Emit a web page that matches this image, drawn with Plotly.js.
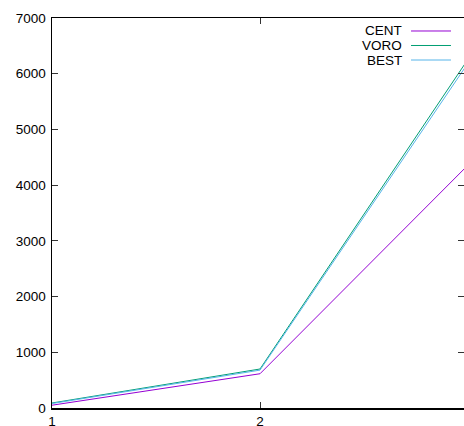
<!DOCTYPE html>
<html>
<head>
<meta charset="utf-8">
<script src="https://cdn.plot.ly/plotly-3.0.1.min.js"></script>
<style>html,body{margin:0;padding:0;background:#fff;overflow:hidden}</style>
</head>
<body>
<div id="chart" style="width:464px;height:426px"></div>
<script>
const xValues = [1, 2, 3];
const seriesNames = ["CENT", "VORO", "BEST"];
const cent = [50, 615, 4360];
const voro = [90, 700, 6260];
const best = [80, 680, 6190];
const seriesColors = ["#9400d3", "#009e73", "#56b4e9"];
const yTicks = [0, 1000, 2000, 3000, 4000, 5000, 6000, 7000];
const xTicks = [1, 2, 3];

const allSeries = [cent, voro, best];
const traces = allSeries.map((vals, i) => ({
  x: xValues, y: vals, type: 'scatter', mode: 'lines',
  name: seriesNames[i], showlegend: false,
  line: {color: seriesColors[i], width: 1}
}));

const font = {family: 'Liberation Sans, Arial, sans-serif', size: 13.5, color: '#000'};
const legendX0 = 0.8714, legendX1 = 0.9684, legendTextX = 0.855;
const rowY = [0.9667, 0.9295, 0.8923];
const annotations = seriesNames.map((n, i) => ({
  xref: 'paper', yref: 'paper', x: legendTextX, y: rowY[i],
  xanchor: 'right', yanchor: 'middle', text: n, showarrow: false, font: font
}));
const shapes = seriesNames.map((n, i) => ({
  type: 'line', xref: 'paper', yref: 'paper', x0: legendX0, x1: legendX1,
  y0: rowY[i], y1: rowY[i], line: {color: seriesColors[i], width: 1}
}));

const layout = {
  width: 464, height: 426,
  margin: {l: 52, r: 0, t: 18, b: 18},
  paper_bgcolor: '#fff', plot_bgcolor: '#fff',
  font: font,
  showlegend: false,
  xaxis: {
    range: [1, 1 + 412 / 208], tickvals: xTicks, ticktext: xTicks.map(String),
    ticks: 'inside', ticklen: 6, tickcolor: '#333', tickwidth: 1,
    showline: true, linecolor: '#000', linewidth: 1.5, mirror: 'ticks',
    showgrid: false, zeroline: false, tickfont: font, ticklabelstandoff: 0
  },
  yaxis: {
    range: [0, 7000], tickvals: yTicks, ticktext: yTicks.map(String),
    ticks: 'inside', ticklen: 6, tickcolor: '#333', tickwidth: 1,
    showline: true, linecolor: '#000', linewidth: 1.5, mirror: 'ticks',
    showgrid: false, zeroline: false, tickfont: font, ticklabelstandoff: 2
  },
  annotations: annotations,
  shapes: shapes
};
Plotly.newPlot('chart', traces, layout, {staticPlot: true, displayModeBar: false});
</script>
</body>
</html>
